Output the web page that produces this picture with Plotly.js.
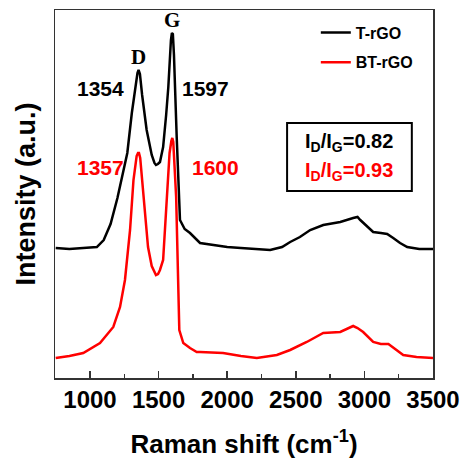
<!DOCTYPE html>
<html><head><meta charset="utf-8">
<script src="https://cdn.plot.ly/plotly-3.0.1.min.js"></script>
<style>html,body{margin:0;padding:0;background:#fff}#c{width:461px;height:460px}</style>
</head><body><div id="c"></div>
<script>
// Raman shift (cm^-1) and intensity (a.u.)
const tX = [750,850,950,1050,1100,1150,1200,1250,1272,1305,1336,1346,1354,1364,1380,1413,1450,1470,1481,1495,1510,1533,1555,1571,1590,1597,1604,1612,1632,1656,1690,1729,1802,1900,2000,2100,2200,2313,2400,2459,2530,2605,2700,2824,2918,2950,2970,3020,3064,3120,3166,3210,3260,3312,3400,3500];
const tY = [130,129,130,131,138,154,180,210,225,265,298,305,308,304,283,248,223,215,213,214,216,231,263,291,338,345,344,323,241,158,149,145,135,133,131,130,129,128,131,136,141,148,153,156,160,161,158,152,146,145,144,140,135,131,129,129];
const bX = [750,850,951,1073,1170,1219,1255,1292,1317,1340,1350,1357,1366,1388,1423,1450,1467,1481,1496,1510,1533,1559,1580,1593,1600,1607,1615,1628,1651,1680,1729,1778,1802,1900,1970,2100,2216,2362,2459,2580,2700,2824,2918,2950,2991,3064,3120,3175,3230,3283,3380,3500];
const bY = [20,22,25,35,51,71,98,148,198,222,225,225,220,188,131,112,106,103,104,108,118,181,225,237,240,236,215,181,48,35,30,26,26,25,25,22,20,23,28,36,45,46,52,50,46,36,34,34,28,23,21,20];
const seriesNames = ["T-rGO","BT-rGO"];
const peakLabels = ["1354","1597","1357","1600"];
const ratioLabels = ["0.82","0.93"];

const traces = [
  {x:tX, y:tY, name:seriesNames[0], mode:'lines', line:{color:'#000000', width:2.5}, legendgroup:'a'},
  {x:bX, y:bY, name:seriesNames[1], mode:'lines', line:{color:'#ff0000', width:2.5}, legendgroup:'b'}
];
const ARIAL = 'Arial, Liberation Sans, sans-serif';
const bold = {family:ARIAL, size:21, color:'#000', weight:'bold'};
const layout = {
  width:461, height:460,
  margin:{l:55, r:28, t:10, b:82},
  paper_bgcolor:'#fff', plot_bgcolor:'#fff',
  showlegend:true,
  legend:{x:0.69, y:0.985, xanchor:'left', yanchor:'top', bgcolor:'rgba(0,0,0,0)',
          traceorder:'grouped', tracegroupgap:6,
          font:{family:ARIAL, size:16, color:'#000', weight:'bold'}},
  xaxis:{range:[745,3500], tickvals:[1000,1500,2000,2500,3000,3500], ticks:'inside', ticklen:7, tickwidth:1.5, tickcolor:'#333',
         minor:{tickvals:[1250,1750,2250,2750,3250], ticks:'inside', ticklen:4, tickwidth:1.5, tickcolor:'#333'},
         showgrid:false, zeroline:false, showline:true, mirror:true, linecolor:'#333', linewidth:1.5,
         tickfont:{family:ARIAL, size:24, color:'#000', weight:'bold'},
         title:{text:'Raman shift (cm<sup>-1</sup>)', standoff:22, font:{family:ARIAL, size:26, color:'#000', weight:'bold'}}},
  yaxis:{range:[0,368], showticklabels:false, ticks:'', showgrid:false, zeroline:false, showline:true, mirror:true, linecolor:'#333', linewidth:1.5,
         title:{text:'Intensity (a.u.)', standoff:10, font:{family:ARIAL, size:27, color:'#000', weight:'bold'}}},
  shapes:[{type:'rect', xref:'paper', yref:'paper', x0:0.614, x1:0.944, y0:0.508, y1:0.693, line:{color:'#000', width:2}}],
  annotations:[
    {x:1350, y:321, xref:'x', yref:'y', text:'D', showarrow:false, font:{family:'Liberation Serif, Times New Roman, serif', size:21, color:'#000', weight:'bold'}},
    {x:1598, y:358, xref:'x', yref:'y', text:'G', showarrow:false, font:{family:'Liberation Serif, Times New Roman, serif', size:21, color:'#000', weight:'bold'}},
    {x:1073, y:290, xref:'x', yref:'y', text:peakLabels[0], showarrow:false, xanchor:'center', font:bold},
    {x:1839, y:290, xref:'x', yref:'y', text:peakLabels[1], showarrow:false, xanchor:'center', font:bold},
    {x:1073, y:211, xref:'x', yref:'y', text:peakLabels[2], showarrow:false, xanchor:'center', font:Object.assign({}, bold, {color:'#ff0000'})},
    {x:1912, y:211, xref:'x', yref:'y', text:peakLabels[3], showarrow:false, xanchor:'center', font:Object.assign({}, bold, {color:'#ff0000'})},
    {x:0.779, y:0.639, xref:'paper', yref:'paper', xanchor:'center', yanchor:'middle', text:'I<sub>D</sub>/I<sub>G</sub>='+ratioLabels[0], showarrow:false, font:{family:ARIAL, size:20, color:'#000', weight:'bold'}},
    {x:0.779, y:0.562, xref:'paper', yref:'paper', xanchor:'center', yanchor:'middle', text:'I<sub>D</sub>/I<sub>G</sub>='+ratioLabels[1], showarrow:false, font:{family:ARIAL, size:20, color:'#ff0000', weight:'bold'}}
  ]
};
Plotly.newPlot('c', traces, layout, {displayModeBar:false, staticPlot:true});
</script></body></html>
